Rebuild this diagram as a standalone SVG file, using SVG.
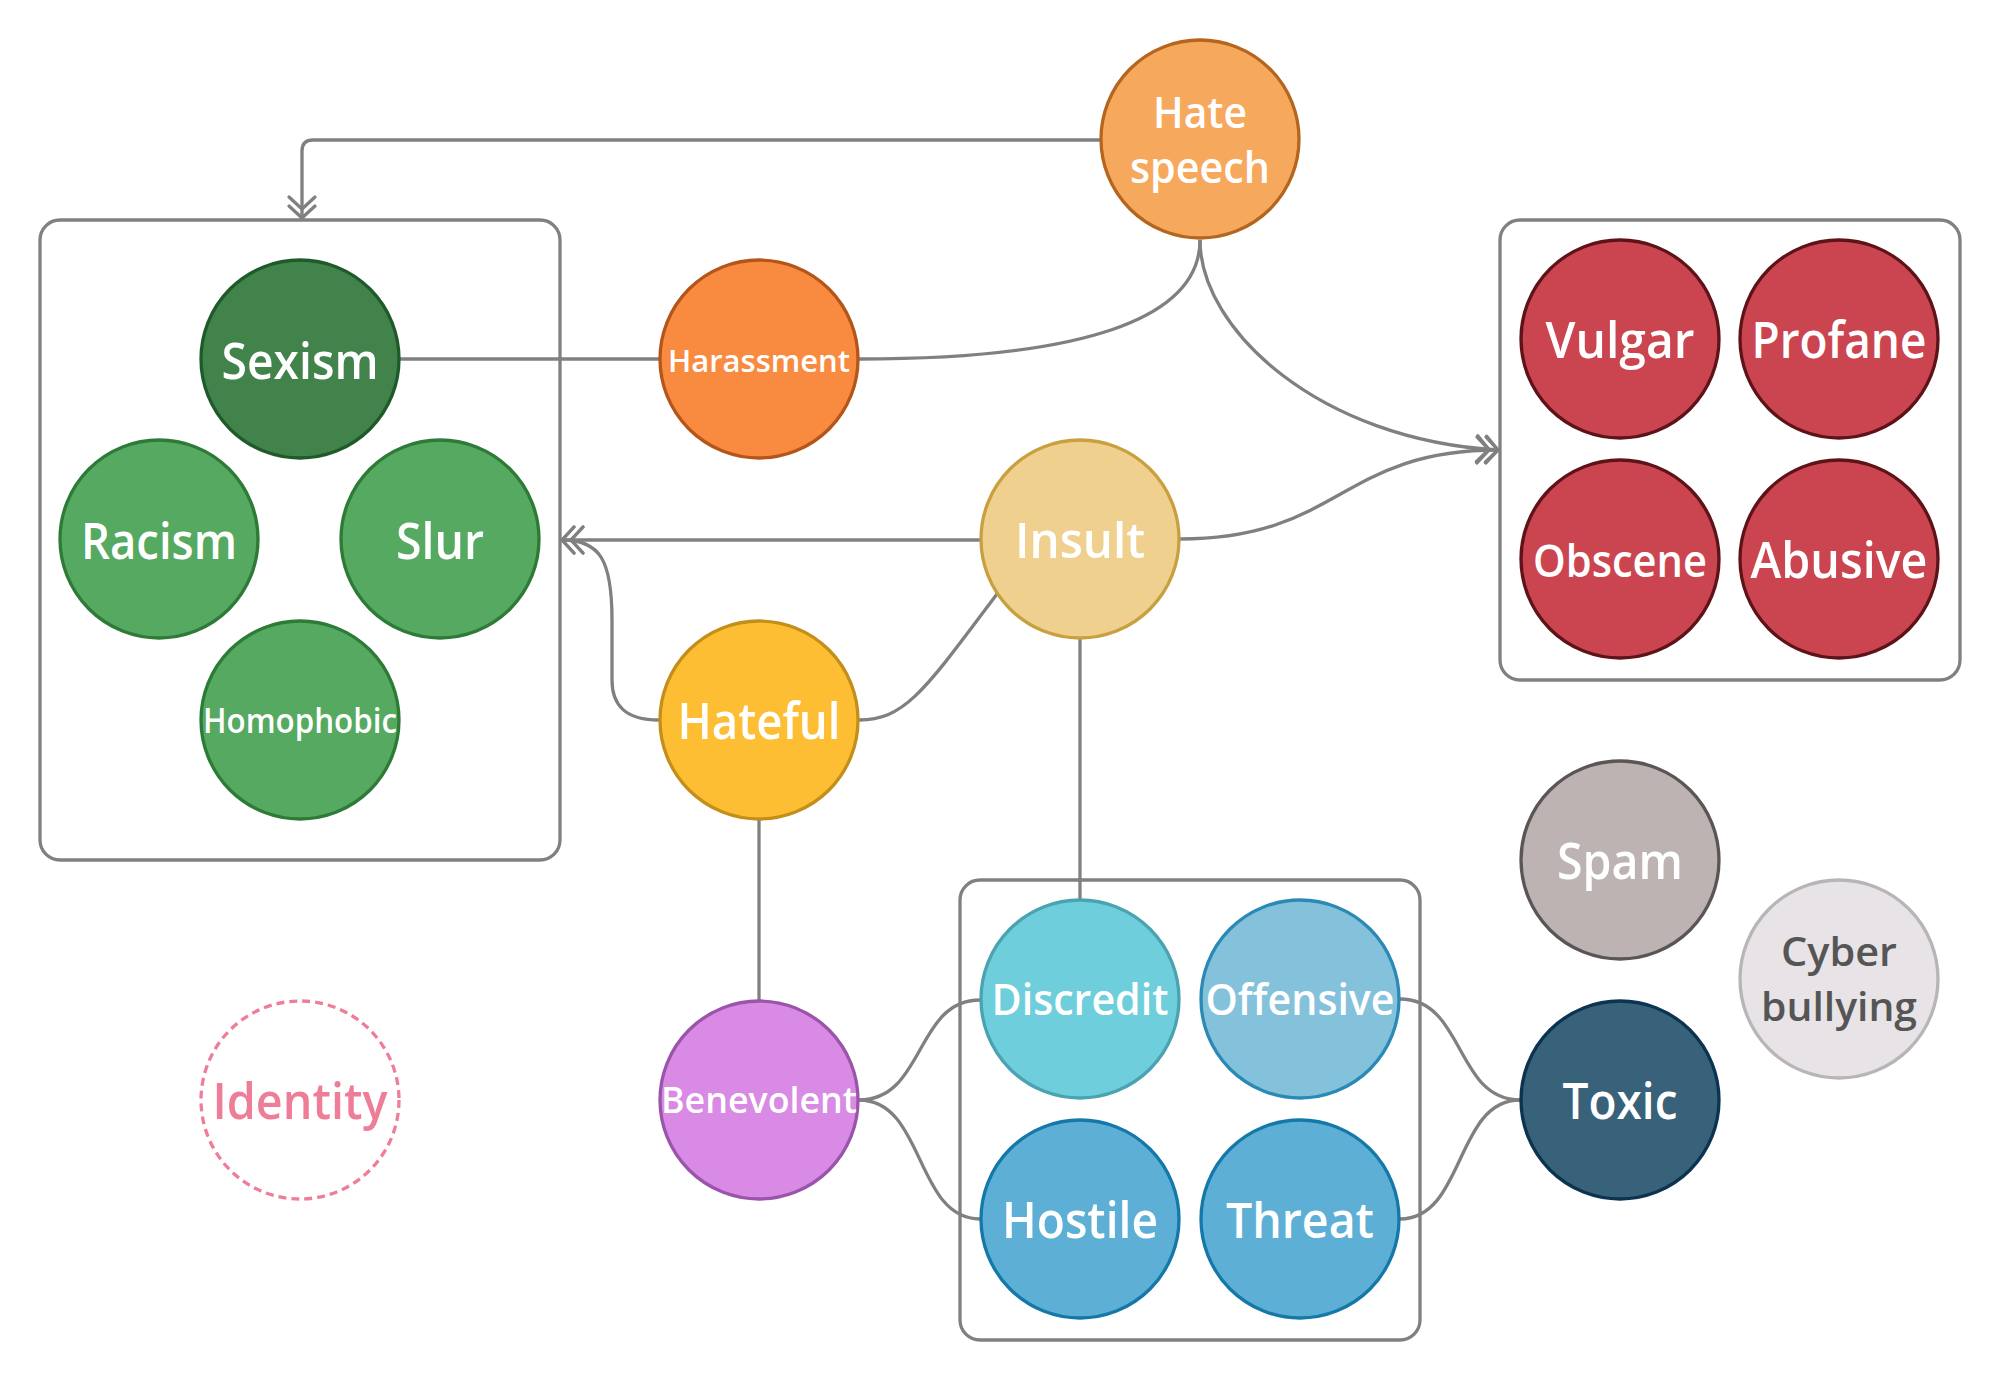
<svg xmlns="http://www.w3.org/2000/svg" width="2000" height="1381" viewBox="0 0 2000 1381">
<style>
.box{fill:none;stroke:#808080;stroke-width:3.3}
.edge{fill:none;stroke:#808080;stroke-width:3.3}
.n{stroke-width:3.3}
.t{font-family:"Open Sans","Noto Sans","Liberation Sans",sans-serif;font-weight:600;fill:#ffffff;text-anchor:middle}
</style>
<defs>
<marker id="dbl" viewBox="-26 -16 29 32" markerWidth="29" markerHeight="32" refX="0" refY="0" markerUnits="userSpaceOnUse" orient="auto">
<path d="M-12,-13 L0,0 L-12,13 M-21,-13 L-9,0 L-21,13" fill="none" stroke="#808080" stroke-width="3.3" stroke-linecap="round" stroke-linejoin="round"/>
</marker>
</defs>
<rect width="2000" height="1381" fill="#ffffff"/>
<g id="groups">
<rect class="box" x="40" y="220" width="520" height="640" rx="20"/>
<rect class="box" x="1500" y="220" width="460" height="460" rx="20"/>
<rect class="box" x="960" y="880" width="460" height="460" rx="20"/>
</g>
<g id="connectors">
<path class="edge" d="M1100,140 L313,140 Q302,140 302,151 L302,218" marker-end="url(#dbl)"/>
<path class="edge" d="M400,359 L659,359"/>
<path class="edge" d="M859,359 C1080,359 1200,320 1200,240"/>
<path class="edge" d="M1200,240 C1200,330 1320,440 1498,450" marker-end="url(#dbl)"/>
<path class="edge" d="M1180,539 C1340,539 1340,450 1498,450" marker-end="url(#dbl)"/>
<path class="edge" d="M980,540 L562,540" marker-end="url(#dbl)"/>
<path class="edge" d="M659,720 C625,720 612,705 612,680 L612,620 C612,560 600,540 562,540" marker-end="url(#dbl)"/>
<path class="edge" d="M859,720 C905,720 925,690 997,594"/>
<path class="edge" d="M759,820 L759,1000"/>
<path class="edge" d="M1080,639 L1080,899"/>
<path class="edge" d="M859,1100 C925,1100 915,1000 980,1000"/>
<path class="edge" d="M859,1100 C925,1100 915,1219 980,1219"/>
<path class="edge" d="M1400,999 C1465,999 1455,1100 1520,1100"/>
<path class="edge" d="M1400,1219 C1465,1219 1455,1100 1520,1100"/>
</g>
<g id="hate-speech"><circle class="n" cx="1200" cy="139" r="99" fill="#F6A95D" stroke="#B5651E"/><text class="t" x="1200" y="128" font-size="43" textLength="94" lengthAdjust="spacingAndGlyphs">Hate</text><text class="t" x="1200" y="183" font-size="43" textLength="140" lengthAdjust="spacingAndGlyphs">speech</text></g>
<g id="sexism"><circle class="n" cx="300" cy="359" r="99" fill="#42834B" stroke="#1F5A2B"/><text class="t" x="300" y="379" font-size="50" textLength="157" lengthAdjust="spacingAndGlyphs">Sexism</text></g>
<g id="racism"><circle class="n" cx="159" cy="539" r="99" fill="#55A960" stroke="#2E7A37"/><text class="t" x="159" y="559" font-size="50" textLength="156" lengthAdjust="spacingAndGlyphs">Racism</text></g>
<g id="slur"><circle class="n" cx="440" cy="539" r="99" fill="#55A960" stroke="#2E7A37"/><text class="t" x="440" y="559" font-size="50" textLength="88" lengthAdjust="spacingAndGlyphs">Slur</text></g>
<g id="homophobic"><circle class="n" cx="300" cy="720" r="99" fill="#55A960" stroke="#2E7A37"/><text class="t" x="300" y="733" font-size="34" textLength="194" lengthAdjust="spacingAndGlyphs">Homophobic</text></g>
<g id="harassment"><circle class="n" cx="759" cy="359" r="99" fill="#F98B41" stroke="#B4551A"/><text class="t" x="759" y="372" font-size="31" textLength="182" lengthAdjust="spacingAndGlyphs">Harassment</text></g>
<g id="insult"><circle class="n" cx="1080" cy="539" r="99" fill="#F0D08F" stroke="#C9A040"/><text class="t" x="1080" y="558" font-size="49" textLength="130" lengthAdjust="spacingAndGlyphs">Insult</text></g>
<g id="hateful"><circle class="n" cx="759" cy="720" r="99" fill="#FDBE33" stroke="#C48E1A"/><text class="t" x="759" y="739" font-size="51" textLength="163" lengthAdjust="spacingAndGlyphs">Hateful</text></g>
<g id="benevolent"><circle class="n" cx="759" cy="1100" r="99" fill="#D88AE4" stroke="#9A55AB"/><text class="t" x="759" y="1113" font-size="36" textLength="196" lengthAdjust="spacingAndGlyphs">Benevolent</text></g>
<g id="identity"><circle cx="300" cy="1100" r="99" fill="#ffffff" stroke="#EE7E98" stroke-width="3.3" stroke-dasharray="8,5"/><text class="t" x="300" y="1119" font-size="50" textLength="175" lengthAdjust="spacingAndGlyphs" style="fill:#EE7E98">Identity</text></g>
<g id="discredit"><circle class="n" cx="1080" cy="999" r="99" fill="#6FCEDB" stroke="#4AA3B0"/><text class="t" x="1080" y="1015" font-size="43" textLength="177" lengthAdjust="spacingAndGlyphs">Discredit</text></g>
<g id="offensive"><circle class="n" cx="1300" cy="999" r="99" fill="#84C2DC" stroke="#2B8AB5"/><text class="t" x="1300" y="1015" font-size="43" textLength="189" lengthAdjust="spacingAndGlyphs">Offensive</text></g>
<g id="hostile"><circle class="n" cx="1080" cy="1219" r="99" fill="#5DAFD5" stroke="#1478A8"/><text class="t" x="1080" y="1238" font-size="50" textLength="156" lengthAdjust="spacingAndGlyphs">Hostile</text></g>
<g id="threat"><circle class="n" cx="1300" cy="1219" r="99" fill="#5DAFD5" stroke="#1478A8"/><text class="t" x="1300" y="1238" font-size="49" textLength="148" lengthAdjust="spacingAndGlyphs">Threat</text></g>
<g id="toxic"><circle class="n" cx="1620" cy="1100" r="99" fill="#38617A" stroke="#0C3350"/><text class="t" x="1620" y="1119" font-size="50" textLength="115" lengthAdjust="spacingAndGlyphs">Toxic</text></g>
<g id="spam"><circle class="n" cx="1620" cy="860" r="99" fill="#BDB3B2" stroke="#5B5656"/><text class="t" x="1620" y="879" font-size="50" textLength="126" lengthAdjust="spacingAndGlyphs">Spam</text></g>
<g id="cyber-bullying"><circle class="n" cx="1839" cy="979" r="99" fill="#E7E3E6" stroke="#B8B5B7"/><text class="t" x="1839" y="966" font-size="39" textLength="116" lengthAdjust="spacingAndGlyphs" style="fill:#555555">Cyber</text><text class="t" x="1839" y="1021" font-size="39" textLength="156" lengthAdjust="spacingAndGlyphs" style="fill:#555555">bullying</text></g>
<g id="vulgar"><circle class="n" cx="1620" cy="339" r="99" fill="#CB4550" stroke="#5E1319"/><text class="t" x="1620" y="358" font-size="50" textLength="149" lengthAdjust="spacingAndGlyphs">Vulgar</text></g>
<g id="profane"><circle class="n" cx="1839" cy="339" r="99" fill="#CB4550" stroke="#5E1319"/><text class="t" x="1839" y="358" font-size="50" textLength="175" lengthAdjust="spacingAndGlyphs">Profane</text></g>
<g id="obscene"><circle class="n" cx="1620" cy="559" r="99" fill="#CB4550" stroke="#5E1319"/><text class="t" x="1620" y="577" font-size="46" textLength="174" lengthAdjust="spacingAndGlyphs">Obscene</text></g>
<g id="abusive"><circle class="n" cx="1839" cy="559" r="99" fill="#CB4550" stroke="#5E1319"/><text class="t" x="1839" y="578" font-size="50" textLength="177" lengthAdjust="spacingAndGlyphs">Abusive</text></g>
</svg>
